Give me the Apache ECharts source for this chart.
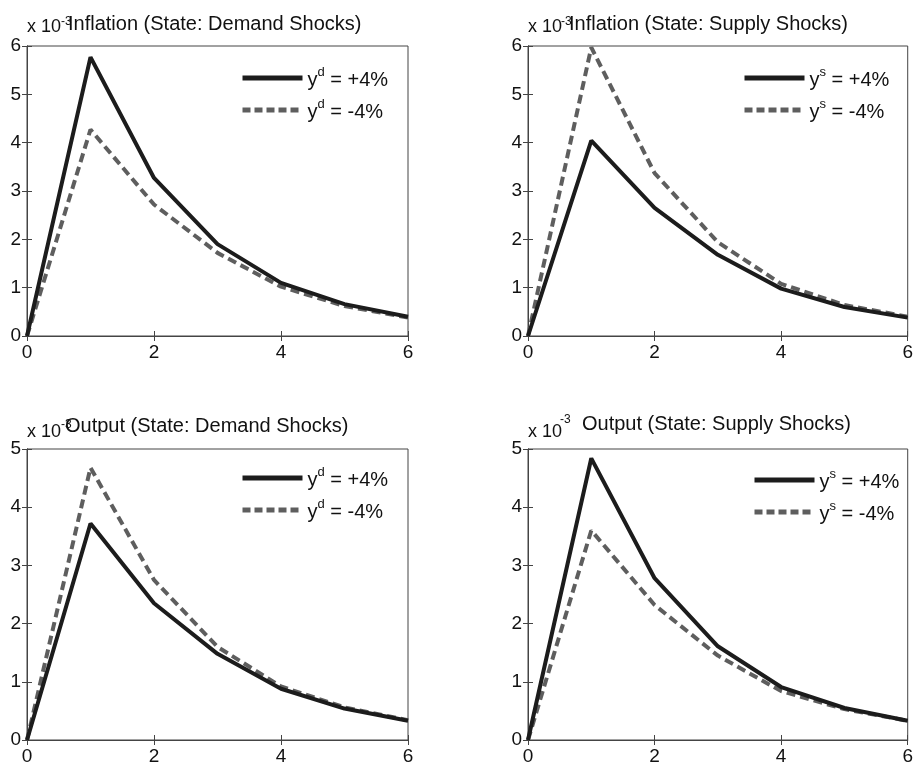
<!DOCTYPE html>
<html>
<head>
<meta charset="utf-8">
<script src="https://cdn.jsdelivr.net/npm/echarts@6/dist/echarts.min.js"></script>
<style>
  html, body { margin: 0; padding: 0; background: #fff; }
  #chart { width: 916px; height: 766px; }
</style>
</head>
<body>
<div id="chart"></div>
<script>
// ---- data (values in units of 10^-3) ----
const steps = [0, 1, 2, 3, 4, 5, 6];

const inflDemandPos = [0, 5.77, 3.27, 1.9, 1.1, 0.66, 0.4];
const inflDemandNeg = [0, 4.27, 2.72, 1.72, 1.02, 0.62, 0.38];
const inflSupplyPos = [0, 4.04, 2.65, 1.68, 0.98, 0.6, 0.38];
const inflSupplyNeg = [0, 5.97, 3.37, 1.94, 1.08, 0.64, 0.4];
const outDemandPos = [0, 3.72, 2.35, 1.48, 0.88, 0.54, 0.33];
const outDemandNeg = [0, 4.68, 2.75, 1.6, 0.92, 0.56, 0.34];
const outSupplyPos = [0, 4.84, 2.78, 1.61, 0.91, 0.55, 0.33];
const outSupplyNeg = [0, 3.6, 2.32, 1.45, 0.84, 0.53, 0.33];

const titles = [
  'Inflation (State: Demand Shocks)',
  'Inflation (State: Supply Shocks)',
  'Output (State: Demand Shocks)',
  'Output (State: Supply Shocks)'
];
const yMax = [6, 6, 5, 5];

// ---- layout ----
const FONT = 'Liberation Sans, Arial, sans-serif';
const SOLID = '#1c1c1c', DASHED = '#5e5e5e';
const grids = [
  { left: 27, top: 46, width: 381, height: 290 },
  { left: 528, top: 46, width: 380, height: 290 },
  { left: 27, top: 449, width: 381, height: 291 },
  { left: 528, top: 449, width: 380, height: 291 }
];
const legendPos = [
  { left: 240, top: 66 },
  { left: 742, top: 66 },
  { left: 240, top: 466 },
  { left: 752, top: 468 }
];
// tops of the text boxes
const titlePos = [
  { x10: [27, 18], sup: [61, 16], t: [68, 14] },
  { x10: [528, 18], sup: [561, 16], t: [569, 14] },
  { x10: [27, 423], sup: [61, 419], t: [65, 416] },
  { x10: [528, 423], sup: [560, 414], t: [582, 414] }
];

const panels = [
  { pos: inflDemandPos, neg: inflDemandNeg, sup: 'd' },
  { pos: inflSupplyPos, neg: inflSupplyNeg, sup: 's' },
  { pos: outDemandPos, neg: outDemandNeg, sup: 'd' },
  { pos: outSupplyPos, neg: outSupplyNeg, sup: 's' }
];

const legendText = {};
const xAxes = [], yAxes = [], series = [], legends = [], graphics = [];

panels.forEach((p, i) => {
  const tick = { show: true, inside: true, length: 5, lineStyle: { color: '#444', width: 1 } };
  const line = { show: true, lineStyle: { color: '#444', width: 1 } };
  xAxes.push({
    gridIndex: i, type: 'value', min: 0, max: 6, interval: 2, position: 'bottom',
    axisLine: line, axisTick: tick, splitLine: { show: false },
    axisLabel: { color: '#111', fontSize: 19, fontFamily: FONT, margin: 7 }
  });
  xAxes.push({
    gridIndex: i, type: 'value', min: 0, max: 6, interval: 2, position: 'top',
    axisLine: line, axisTick: tick, splitLine: { show: false }, axisLabel: { show: false }
  });
  yAxes.push({
    gridIndex: i, type: 'value', min: 0, max: yMax[i], interval: 1, position: 'left',
    axisLine: line, axisTick: tick, splitLine: { show: false },
    axisLabel: { color: '#111', fontSize: 19, fontFamily: FONT, margin: 6 }
  });
  yAxes.push({
    gridIndex: i, type: 'value', min: 0, max: yMax[i], interval: 1, position: 'right',
    axisLine: line, axisTick: tick, splitLine: { show: false }, axisLabel: { show: false }
  });

  const namePos = 'p' + i + '_pos', nameNeg = 'p' + i + '_neg';
  legendText[namePos] = '{t|y}{s|' + p.sup + '}{t| = +4%}';
  legendText[nameNeg] = '{t|y}{s|' + p.sup + '}{t| = -4%}';

  series.push({
    name: namePos, type: 'line', xAxisIndex: 2 * i, yAxisIndex: 2 * i,
    data: steps.map((s, k) => [s, p.pos[k]]),
    symbol: 'none', z: 3, silent: true,
    lineStyle: { color: SOLID, width: 4 }, itemStyle: { color: SOLID }
  });
  series.push({
    name: nameNeg, type: 'line', xAxisIndex: 2 * i, yAxisIndex: 2 * i,
    data: steps.map((s, k) => [s, p.neg[k]]),
    symbol: 'none', z: 2, silent: true,
    lineStyle: { color: DASHED, width: 4, type: [9, 5] }, itemStyle: { color: DASHED }
  });

  legends.push({
    data: [
      { name: namePos, itemStyle: { opacity: 0 }, lineStyle: { color: SOLID, width: 5, type: 'solid' } },
      { name: nameNeg, itemStyle: { opacity: 0 }, lineStyle: { color: DASHED, width: 5, type: [8, 4] } }
    ],
    orient: 'vertical',
    left: legendPos[i].left, top: legendPos[i].top,
    itemWidth: 60, itemHeight: 14, itemGap: 8, padding: 0,
    selectedMode: false,
    formatter: n => legendText[n],
    textStyle: {
      rich: {
        t: { fontSize: 20, fontFamily: FONT, color: '#111', verticalAlign: 'bottom', lineHeight: 24 },
        s: { fontSize: 13, fontFamily: FONT, color: '#111', verticalAlign: 'top', lineHeight: 24 }
      }
    }
  });

  const tp = titlePos[i];
  graphics.push({
    type: 'text', left: tp.x10[0], top: tp.x10[1],
    style: { text: 'x 10', font: '18px ' + FONT, fill: '#111' }
  });
  graphics.push({
    type: 'text', left: tp.sup[0], top: tp.sup[1],
    style: { text: '-3', font: '12px ' + FONT, fill: '#111' }
  });
  graphics.push({
    type: 'text', left: tp.t[0], top: tp.t[1],
    style: { text: titles[i], font: '20px ' + FONT, fill: '#111' }
  });
});

const chart = echarts.init(document.getElementById('chart'), null, { renderer: 'canvas' });
chart.setOption({
  animation: false,
  backgroundColor: '#fff',
  grid: grids.map(g => Object.assign({ show: true, borderColor: '#444', borderWidth: 1, backgroundColor: '#fff' }, g)),
  xAxis: xAxes,
  yAxis: yAxes,
  legend: legends,
  series: series,
  graphic: graphics
});
</script>
</body>
</html>
